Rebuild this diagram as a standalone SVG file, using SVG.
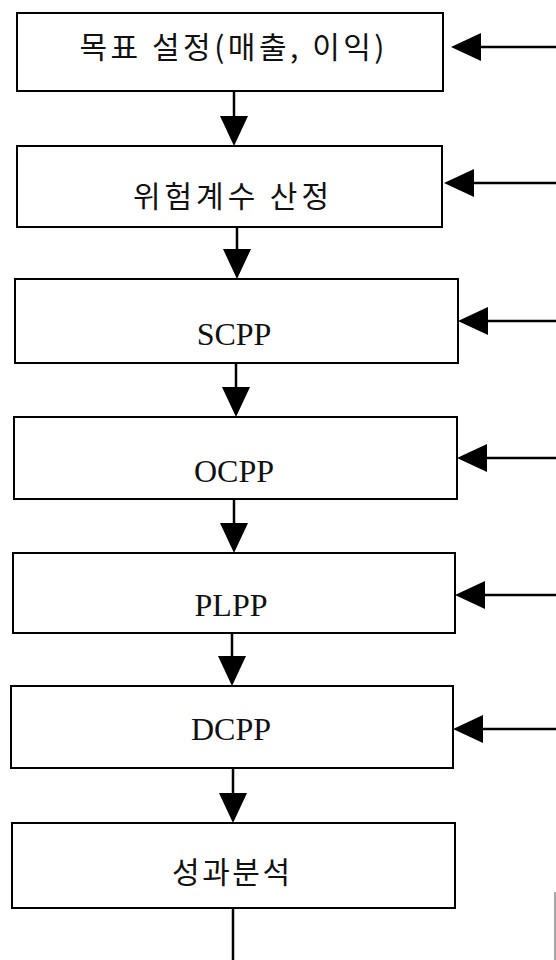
<svg xmlns="http://www.w3.org/2000/svg" width="556" height="960" viewBox="0 0 556 960">
  <style>
    .box { fill: #ffffff; stroke: #000000; stroke-width: 2; }
    .ko { font-family: "Noto Sans CJK KR", "Noto Sans", sans-serif; font-size: 30px; fill: #111111; text-anchor: middle; }
    .la { font-family: "Liberation Serif", "Times New Roman", serif; font-size: 32px; fill: #111111; text-anchor: middle; }
    .link { fill: none; stroke: #000000; stroke-width: 2.5; }
  </style>
  <defs>
    <marker id="head" viewBox="0 0 30 28" markerWidth="30" markerHeight="28" refX="20" refY="14" orient="auto" markerUnits="userSpaceOnUse">
      <path d="M0,0 L30,14 L0,28 Z" fill="#000000"/>
    </marker>
  </defs>

  <rect width="556" height="960" fill="#ffffff"/>

  <!-- process steps -->
  <g id="goal">
    <rect class="box" x="17" y="13" width="426" height="78"/>
    <text class="ko" x="232" y="58" textLength="305">목표 설정(매출, 이익)</text>
  </g>
  <g id="risk">
    <rect class="box" x="17" y="146" width="425" height="81"/>
    <text class="ko" x="231" y="207" textLength="196">위험계수 산정</text>
  </g>
  <g id="scpp">
    <rect class="box" x="15" y="279" width="443" height="84"/>
    <text class="la" x="234" y="345">SCPP</text>
  </g>
  <g id="ocpp">
    <rect class="box" x="14" y="417" width="443" height="82"/>
    <text class="la" x="234" y="482">OCPP</text>
  </g>
  <g id="plpp">
    <rect class="box" x="13" y="553" width="442" height="80"/>
    <text class="la" x="231" y="616">PLPP</text>
  </g>
  <g id="dcpp">
    <rect class="box" x="11" y="686" width="442" height="82"/>
    <text class="la" x="231" y="740">DCPP</text>
  </g>
  <g id="result">
    <rect class="box" x="12" y="823" width="443" height="85"/>
    <text class="ko" x="231" y="883" textLength="118">성과분석</text>
  </g>

  <!-- connectors -->
  <g id="connectors">
    <!-- downward flow -->
    <path class="link" d="M234,91 V136" marker-end="url(#head)"/>
    <path class="link" d="M237,227 V269" marker-end="url(#head)"/>
    <path class="link" d="M236,363 V407" marker-end="url(#head)"/>
    <path class="link" d="M234,499 V543" marker-end="url(#head)"/>
    <path class="link" d="M232,633 V676" marker-end="url(#head)"/>
    <path class="link" d="M233,768 V813" marker-end="url(#head)"/>
    <path class="link" d="M233,908 V960"/>
    <!-- inputs from the right -->
    <path class="link" d="M556,47 H461" marker-end="url(#head)"/>
    <path class="link" d="M556,183 H454" marker-end="url(#head)"/>
    <path class="link" d="M556,321 H468" marker-end="url(#head)"/>
    <path class="link" d="M556,458 H467" marker-end="url(#head)"/>
    <path class="link" d="M556,595 H465" marker-end="url(#head)"/>
    <path class="link" d="M556,729 H463" marker-end="url(#head)"/>
    <!-- edge line, lower right -->
    <path d="M555,892 V960" fill="none" stroke="#8a8a8a" stroke-width="1.5"/>
  </g>
</svg>
